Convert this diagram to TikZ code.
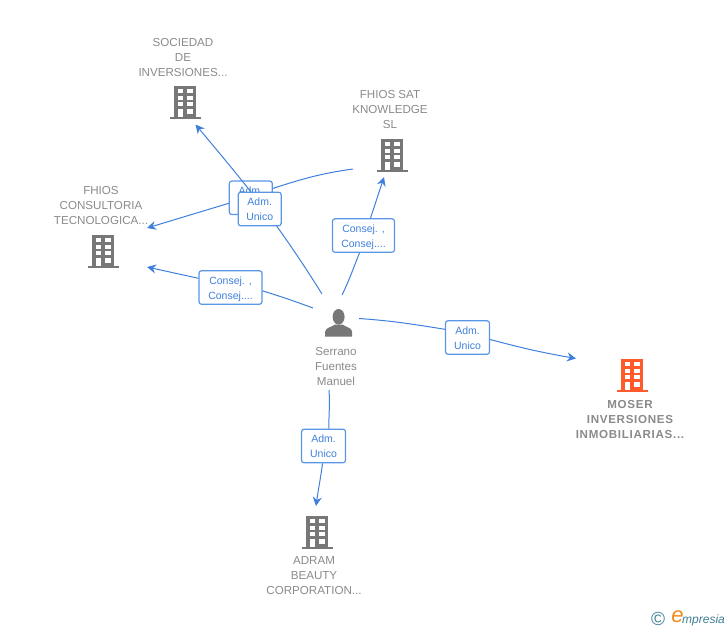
\documentclass[tikz,border=0pt]{standalone}
\usepackage{fontspec}
\setmainfont{Liberation Sans}
\usetikzlibrary{arrows.meta}
\definecolor{linkblue}{HTML}{3F80DC}
\definecolor{boxblue}{HTML}{5A96E6}
\definecolor{namegrey}{HTML}{8A8A8A}
\definecolor{icongrey}{HTML}{777777}
\definecolor{iconorange}{HTML}{FF5A2B}
\definecolor{logoteal}{HTML}{3F7F96}
\definecolor{logoorange}{HTML}{F08A1E}
\newcommand{\roletext}[2]{\rule{0pt}{11pt}#1\\#2\rule[-3pt]{0pt}{1pt}}
\tikzset{
    pics/building/.style = {code = {
        \fill[#1] (-15.5,0) rectangle (15.5,-2);
        \fill[#1] (-11.3,-1) rectangle (11.3,-33.5);
        \foreach \y in {-29.8,-23.5,-16.8} {
            \fill[white] (-7.3,\y) rectangle (-1.7,\y+4.2);
            \fill[white] (2.3,\y) rectangle (7.7,\y+4.2);
        }
        \fill[white] (-7.3,-10.2) rectangle (-1.7,-2);
        \fill[white] (2.3,-10.2) rectangle (7.7,-5.5);
    }}
}
\begin{document}
\begin{tikzpicture}[x = 1pt, y = -1pt,
    link/.style = {draw = linkblue, line width = 1pt},
    arrowlink/.style = {link, -{Stealth[length = 9pt, width = 9pt, inset = 3pt]}},
    rolebox/.style = {draw = boxblue, fill = white, rounded corners = 2.5pt, line width = 1.2pt,
        text = linkblue, font = \fontsize{10.5}{15}\selectfont, align = center,
        minimum height = 33.5pt, inner sep = 0pt},
    entity/.style = {text = namegrey, font = \fontsize{11.6}{15}\selectfont, align = center, inner sep = 0pt},
    boldentity/.style = {entity, font = \fontsize{11.6}{15}\selectfont\bfseries\addfontfeature{LetterSpace = 6}}]
    \useasboundingbox (0,0) rectangle (728,630);
    % companies
    \pic at (185,119) {building = icongrey};
    \pic at (392,172) {building = icongrey};
    \pic at (103,268) {building = icongrey};
    \pic at (317,549) {building = icongrey};
    \pic at (632,392) {building = iconorange};
    \node[entity] (sociedad) at (183,58) {SOCIEDAD\\DE\\INVERSIONES...};
    \node[entity] (sat) at (390,110) {FHIOS SAT\\KNOWLEDGE\\SL};
    \node[entity] (consultoria) at (101,206) {FHIOS\\CONSULTORIA\\TECNOLOGICA...};
    \node[boldentity] (moser) at (630,419) {MOSER\\INVERSIONES\\INMOBILIARIAS...};
    \node[entity] (adram) at (314,576) {ADRAM\\BEAUTY\\CORPORATION...};
    % person
    \fill[icongrey] (338.6,316.8) ellipse (6pt and 7.8pt);
    \fill[icongrey] (325.2,336.7) -- (325.2,331.5) .. controls (325.8,327.5) and (331,327.5) .. (335,324.5)
        -- (342.5,324.5) .. controls (346.5,327.5) and (351.5,327.5) .. (352,331.5) -- (352,336.7) -- cycle;
    \node[entity] (serrano) at (336,366) {Serrano\\Fuentes\\Manuel};
    % free ends of the connectors
    \coordinate (fromsat) at (353,169);
    \coordinate (fromone) at (322,294);
    \coordinate (fromtwo) at (313,308);
    \coordinate (fromthree) at (342,295);
    \coordinate (fromfour) at (359,318.5);
    \coordinate (fromfive) at (329,390);
    \coordinate (tosociedad) at (195.5,124.5);
    \coordinate (tosat) at (384,177);
    \coordinate (tocons) at (147,228);
    \coordinate (toconstwo) at (147,267);
    \coordinate (tomoser) at (576,358.5);
    \coordinate (toadram) at (316,506);
    % roles
    \node[rolebox, minimum width = 43pt] (admsat) at (250.8,197.8) {\roletext{Adm.}{Unico}};
    \draw[link] (fromsat) to[out = 188, in = 18] (admsat.23);
    \draw[arrowlink] (admsat.194) -- (tocons);
    \node[rolebox, minimum width = 63pt] (consejcons) at (230.5,287.5) {\roletext{Consej. ,}{Consej....}};
    \draw[link] (fromtwo) to[out = 160, in = -17] (consejcons.-6);
    \draw[arrowlink] (consejcons.164) -- (toconstwo);
    \node[rolebox, minimum width = 62pt] (consejsat) at (363.5,235.5) {\roletext{Consej. ,}{Consej....}};
    \draw[link] (fromthree) to[out = 64, in = -112] (consejsat.-103);
    \draw[arrowlink] (consejsat.68) -- (tosat);
    \node[rolebox, minimum width = 44pt] (admmoser) at (467.5,337.5) {\roletext{Adm.}{Unico}};
    \draw[link] (fromfour) to[out = -4, in = 171] (admmoser.160);
    \draw[arrowlink] (admmoser.-5) to[out = -15, in = 170] (tomoser);
    \node[rolebox, minimum width = 44pt] (admadram) at (323.5,446) {\roletext{Adm.}{Unico}};
    \draw[link] (fromfive) to[out = -86, in = 90] (admadram.73);
    \draw[arrowlink] (admadram.-93) to[out = -98, in = 82] (toadram);
    \draw[arrowlink] (fromone) to[out = 122, in = -50] (tosociedad);
    \node[rolebox, minimum width = 43pt] (admsociedad) at (259.7,209) {\roletext{Adm.}{Unico}};
    % logo
    \node[inner sep = 0pt, text = logoteal, font = \fontsize{19}{19}\selectfont] (copyr) at (658,619) {©};
    \node[inner sep = 0pt, text = logoorange, font = \fontsize{22}{22}\selectfont\itshape] (logoe) at (677.5,616.5) {e};
    \node[inner sep = 0pt, text = logoteal, anchor = west, font = \fontsize{12}{12}\selectfont\itshape] (logotext) at (682,620) {mpresia};
\end{tikzpicture}
\end{document}
